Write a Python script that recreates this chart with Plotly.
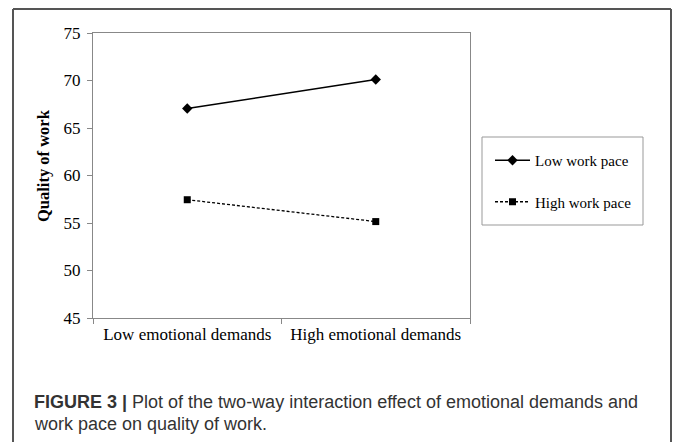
import plotly.graph_objects as go

categories = ["Low emotional demands", "High emotional demands"]
low_pace = [67.05, 70.1]
high_pace = [57.45, 55.15]
series_names = ["Low work pace", "High work pace"]
y_ticks = [45, 50, 55, 60, 65, 70, 75]

W, H = 673, 442
L, R, T, B = 93, 203, 33, 124
pw, ph = W - L - R, H - T - B

def px(x):
    return (x - L) / pw

def py(y):
    return (H - B - y) / ph

serif = "Liberation Serif, Times New Roman, serif"
sans = "Liberation Sans, Arial, sans-serif"

fig = go.Figure()
fig.add_trace(go.Scatter(
    x=categories, y=low_pace, name=series_names[0], mode="lines+markers",
    line=dict(color="black", width=1.5),
    marker=dict(symbol="diamond", size=8, color="black"),
    legendgroup="a",
))
fig.add_trace(go.Scatter(
    x=categories, y=high_pace, name=series_names[1], mode="lines+markers",
    line=dict(color="black", width=1.3, dash="3px,2px"),
    marker=dict(symbol="square", size=7, color="black"),
    legendgroup="b",
))

border = dict(color="#555", width=2)
fig.update_layout(
    width=W, height=H,
    margin=dict(l=L, r=R, t=T, b=B),
    paper_bgcolor="white", plot_bgcolor="white",
    font=dict(family=serif, size=17, color="black"),
    showlegend=True,
    legend=dict(
        x=px(490), y=py(144), xanchor="left", yanchor="top",
        font=dict(family=serif, size=15, color="black"),
        bgcolor="rgba(0,0,0,0)", borderwidth=0,
        tracegroupgap=19, itemwidth=35,
    ),
    xaxis=dict(
        type="category", range=[-0.5, 1.5],
        showline=True, linecolor="#888", linewidth=1.3, mirror=True,
        ticks="outside", tickson="boundaries", ticklen=5, tickcolor="#888",
        showgrid=False, zeroline=False,
        tickfont=dict(family=serif, size=17, color="black"),
    ),
    yaxis=dict(
        range=[45, 75], tickvals=y_ticks,
        showline=True, linecolor="#888", linewidth=1.3, mirror=True,
        ticks="outside", ticklen=5, tickcolor="#888",
        showgrid=False, zeroline=False,
        tickfont=dict(family=serif, size=17, color="black"),
        ticklabelstandoff=3,
    ),
    shapes=[
        dict(type="line", xref="paper", yref="paper",
             x0=px(13), x1=px(13), y0=py(460), y1=py(9), line=border, layer="above"),
        dict(type="line", xref="paper", yref="paper",
             x0=px(13), x1=px(671), y0=py(9), y1=py(9), line=border, layer="above"),
        dict(type="line", xref="paper", yref="paper",
             x0=px(671), x1=px(671), y0=py(460), y1=py(9), line=border, layer="above"),
        dict(type="rect", xref="paper", yref="paper",
             x0=px(482), x1=px(643), y0=py(225), y1=py(137),
             line=dict(color="#999", width=1), layer="below"),
    ],
    annotations=[
        dict(text="<b>Quality of work</b>", xref="paper", yref="paper",
             x=px(43), y=py(165), textangle=-90, showarrow=False,
             xanchor="center", yanchor="middle",
             font=dict(family=serif, size=16.5, color="black")),
        dict(text="<b>FIGURE 3 |</b> Plot of the two-way interaction effect of emotional demands and",
             xref="paper", yref="paper", x=px(32), y=py(402), showarrow=False,
             xanchor="left", yanchor="middle",
             font=dict(family=sans, size=18, color="#333")),
        dict(text="work pace on quality of work.",
             xref="paper", yref="paper", x=px(32), y=py(424), showarrow=False,
             xanchor="left", yanchor="middle",
             font=dict(family=sans, size=18, color="#333")),
    ],
)

fig.write_html("out.html", config={"displayModeBar": False},
               post_script="document.body.style.margin='0';")
